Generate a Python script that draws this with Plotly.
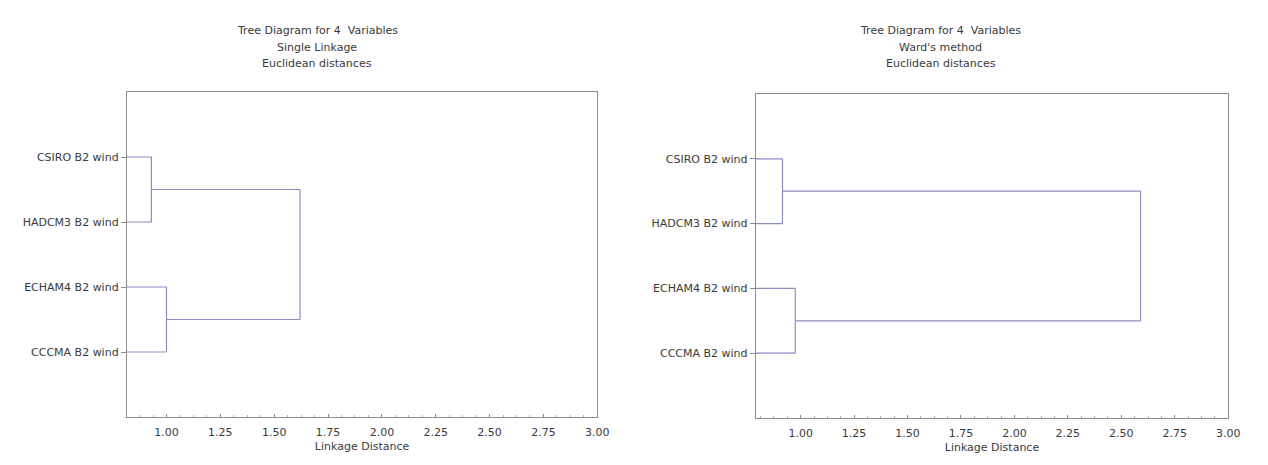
"""
Two dendrograms (tree diagrams) of the four B2 wind models:
single linkage on the left, Ward's method on the right.
"""

import plotly.graph_objects as go

# ── Data ─────────────────────────────────────────────────────────────────────
LEAVES = ["CSIRO B2 wind", "HADCM3 B2 wind", "ECHAM4 B2 wind", "CCCMA B2 wind"]

# merge heights (linkage distance): [CSIRO+HADCM3, ECHAM4+CCCMA, both clusters]
SINGLE_HEIGHTS = [0.93, 1.00, 1.62]
WARD_HEIGHTS = [0.915, 0.975, 2.59]

X_TICKS = [1.00, 1.25, 1.50, 1.75, 2.00, 2.25, 2.50, 2.75, 3.00]

SINGLE_TITLE = ["Tree Diagram for 4  Variables", "Single Linkage", "Euclidean distances"]
WARD_TITLE = ["Tree Diagram for 4  Variables", "Ward's method", "Euclidean distances"]

LINE_COLOR = "#8a8cc4"
AXIS_COLOR = "#8c8c8c"
TEXT_COLOR = "#3a3a3a"
FONT = "DejaVu Sans, Liberation Sans, Arial, sans-serif"

PAGE_OFF = 8  # default body margin of the html page
W, H = 1268 - 2 * PAGE_OFF, 465 - 2 * PAGE_OFF


def px_x(p):
    return (p - PAGE_OFF) / W


def px_y(p):
    return (H - (p - PAGE_OFF)) / H


def dendro_xy(heights, x_start):
    """Build one polyline (None-separated) for a 4-leaf tree: (0,1), (2,3), then both."""
    ypos = [1, 2, 3, 4]
    h01, h23, hall = heights
    xs, ys = [], []

    def seg(x0, y0, x1, y1):
        xs.extend([x0, x1, None])
        ys.extend([y0, y1, None])

    # first pair
    seg(x_start, ypos[0], h01, ypos[0])
    seg(x_start, ypos[1], h01, ypos[1])
    seg(h01, ypos[0], h01, ypos[1])
    # second pair
    seg(x_start, ypos[2], h23, ypos[2])
    seg(x_start, ypos[3], h23, ypos[3])
    seg(h23, ypos[2], h23, ypos[3])
    # join both clusters
    m01 = (ypos[0] + ypos[1]) / 2
    m23 = (ypos[2] + ypos[3]) / 2
    seg(h01, m01, hall, m01)
    seg(h23, m23, hall, m23)
    seg(hall, m01, hall, m23)
    return xs, ys


fig = go.Figure()

panels = [
    # heights, x-range, x-domain (px), y-domain top/bottom (px), title, title centre x (px)
    (SINGLE_HEIGHTS, [0.816, 3.0], (128, 603), (92, 417), SINGLE_TITLE, 320, ""),
    (WARD_HEIGHTS, [0.79, 3.0], (763, 1240), (94, 418), WARD_TITLE, 950, "2"),
]

for heights, xr, (xl, xrp), (yt, yb), title, tcx, ax in panels:
    xs, ys = dendro_xy(heights, xr[0])
    fig.add_trace(
        go.Scatter(
            x=xs, y=ys, mode="lines",
            line=dict(color=LINE_COLOR, width=1.2),
            xaxis="x" + ax, yaxis="y" + ax,
            showlegend=False, hoverinfo="skip",
        )
    )

    fig.update_layout({
        "xaxis" + ax: dict(
            domain=[px_x(xl), px_x(xrp)], range=xr, anchor="y" + ax,
            tickvals=X_TICKS, tickformat=".2f",
            showgrid=False, zeroline=False,
            showline=True, linecolor=AXIS_COLOR, linewidth=1, mirror=True,
            ticks="inside", ticklen=3, tickcolor=AXIS_COLOR,
            minor=dict(ticks="inside", ticklen=2, dtick=0.0625, tickcolor="#b0b0b0"),
            ticklabelstandoff=5,
            tickfont=dict(size=11, color=TEXT_COLOR, family=FONT),
            title=dict(text="Linkage Distance", standoff=4,
                       font=dict(size=11, color=TEXT_COLOR, family=FONT)),
        ),
        "yaxis" + ax: dict(
            domain=[px_y(yb), px_y(yt)], range=[5, 0], anchor="x" + ax,
            tickvals=[1, 2, 3, 4], ticktext=LEAVES,
            showgrid=False, zeroline=False,
            showline=True, linecolor=AXIS_COLOR, linewidth=1, mirror=True,
            ticks="outside", ticklen=5, tickcolor=AXIS_COLOR,
            tickfont=dict(size=11, color=TEXT_COLOR, family=FONT),
        ),
    })

    for line, ty in zip(title, [30, 47, 63]):
        fig.add_annotation(
            text=line, x=px_x(tcx), y=px_y(ty),
            xref="paper", yref="paper", xanchor="center", yanchor="middle",
            showarrow=False,
            font=dict(size=11, color=TEXT_COLOR, family=FONT),
        )

fig.update_layout(
    width=W, height=H,
    margin=dict(l=0, r=0, t=0, b=0),
    paper_bgcolor="white",
    plot_bgcolor="white",
    font=dict(family=FONT, color=TEXT_COLOR, size=11),
    showlegend=False,
)

fig.write_html("out.html")
